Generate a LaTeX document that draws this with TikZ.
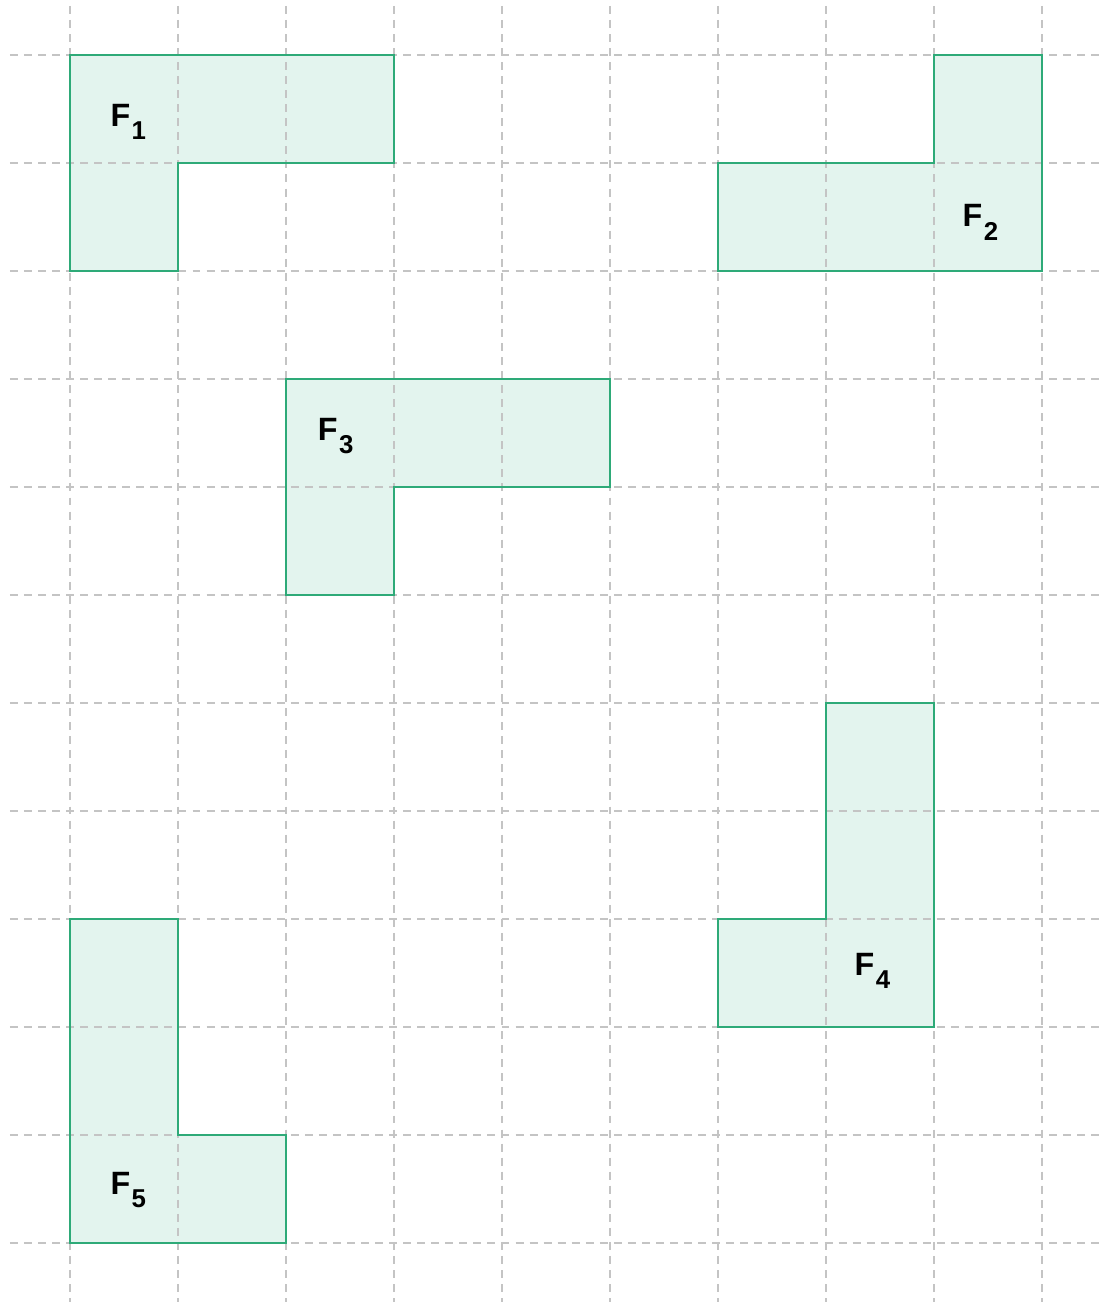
\documentclass[tikz,border=0pt]{standalone}
\usepackage{fontspec}
\setmainfont{Liberation Sans}
\usepackage{tikz}
\usetikzlibrary{calc,positioning}
\definecolor{figfill}{HTML}{E3F4EE}
\definecolor{figline}{HTML}{2EAA78}
\definecolor{gridgray}{HTML}{C4C4C4}
\newcommand{\figname}[1]{F\kern0.4pt\raisebox{-1.25mm}{\fontsize{6.8}{8}\selectfont #1}}
\tikzset{
	gridline/.style={gridgray, line width=0.3pt, dash pattern=on 2.1pt off 1.6pt},
	figshape/.style={draw=figline, line width=0.65pt, line join=miter},
	figlabel/.style={font=\fontsize{8.5}{10}\selectfont\bfseries, inner sep=0pt}
}
\begin{document}
\begin{tikzpicture}
		\useasboundingbox (-0.648,0.509) rectangle (9.565,-11.546);

		\fill[figfill] (0,0) -- (3,0) -- (3,-1) -- (1,-1) -- (1,-2) -- (0,-2) -- cycle;
		\fill[figfill] (8,0) -- (9,0) -- (9,-2) -- (6,-2) -- (6,-1) -- (8,-1) -- cycle;
		\fill[figfill] (2,-3) -- (5,-3) -- (5,-4) -- (3,-4) -- (3,-5) -- (2,-5) -- cycle;
		\fill[figfill] (7,-6) -- (8,-6) -- (8,-9) -- (6,-9) -- (6,-8) -- (7,-8) -- cycle;
		\fill[figfill] (0,-8) -- (1,-8) -- (1,-10) -- (2,-10) -- (2,-11) -- (0,-11) -- cycle;

		\foreach \r in {0,...,11}
			\draw[gridline] (-0.556,-\r) -- (9.565,-\r);
		\foreach \c in {0,...,9}
			\draw[gridline] (\c,0.454) -- (\c,-11.546);

		\draw[figshape] (0,0) -- (3,0) -- (3,-1) -- (1,-1) -- (1,-2) -- (0,-2) -- cycle;
		\draw[figshape] (8,0) -- (9,0) -- (9,-2) -- (6,-2) -- (6,-1) -- (8,-1) -- cycle;
		\draw[figshape] (2,-3) -- (5,-3) -- (5,-4) -- (3,-4) -- (3,-5) -- (2,-5) -- cycle;
		\draw[figshape] (7,-6) -- (8,-6) -- (8,-9) -- (6,-9) -- (6,-8) -- (7,-8) -- cycle;
		\draw[figshape] (0,-8) -- (1,-8) -- (1,-10) -- (2,-10) -- (2,-11) -- (0,-11) -- cycle;

		\node[figlabel] (f1) at (0.54,-0.62) {\figname{1}};
		\node[figlabel] (f2) at (8.43,-1.55) {\figname{2}};
		\node[figlabel] (f3) at (2.46,-3.53) {\figname{3}};
		\node[figlabel] (f4) at (7.43,-8.48) {\figname{4}};
		\node[figlabel] (f5) at (0.54,-10.51) {\figname{5}};
	\end{tikzpicture}
\end{document}
